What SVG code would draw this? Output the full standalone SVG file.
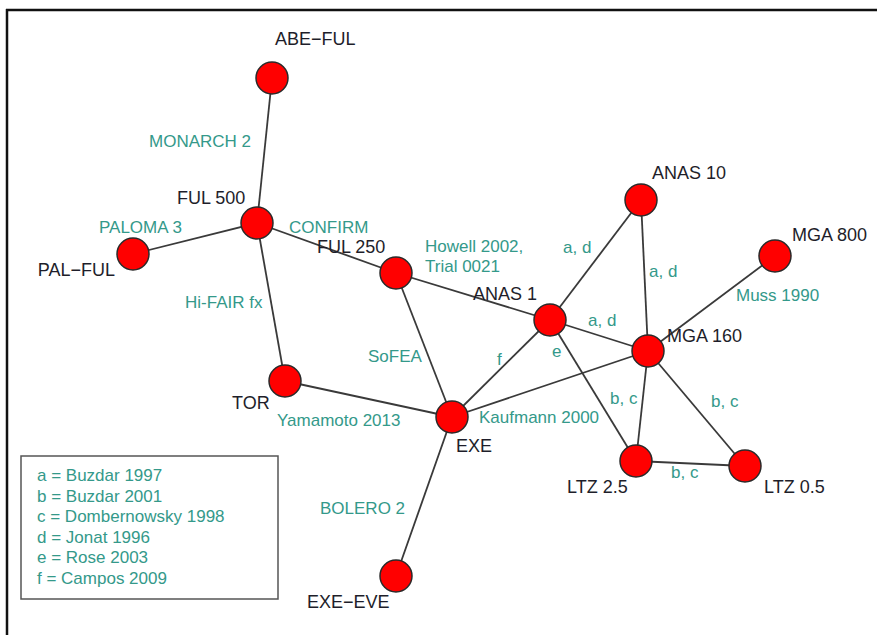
<svg xmlns="http://www.w3.org/2000/svg" width="877" height="635" viewBox="0 0 877 635">
<style>
.edge{stroke:#3a3a3a;stroke-width:1.8;fill:none}
.node circle{fill:#ff0000;stroke:#2a2a2a;stroke-width:1.5}
.nl{font-family:"Liberation Sans",Arial,sans-serif;font-size:18px;fill:#1e1e2a}
.el{font-family:"Liberation Sans",Arial,sans-serif;font-size:17px;fill:#34998a}
.lg{font-family:"Liberation Sans",Arial,sans-serif;font-size:17px;fill:#34998a}
</style>
<rect x="0" y="0" width="877" height="635" fill="#ffffff"/>
<line x1="6" y1="10" x2="877" y2="10" stroke="#111" stroke-width="2.5"/>
<line x1="7" y1="9" x2="7" y2="635" stroke="#111" stroke-width="2.5"/>
<g id="connectors">
<line class="edge" x1="272" y1="78" x2="257" y2="223"/>
<line class="edge" x1="257" y1="223" x2="133" y2="254"/>
<line class="edge" x1="257" y1="223" x2="396" y2="273"/>
<line class="edge" x1="257" y1="223" x2="285" y2="381"/>
<line class="edge" x1="396" y1="273" x2="550" y2="320"/>
<line class="edge" x1="396" y1="273" x2="452" y2="417"/>
<line class="edge" x1="285" y1="381" x2="452" y2="417"/>
<line class="edge" x1="452" y1="417" x2="550" y2="320"/>
<line class="edge" x1="452" y1="417" x2="648" y2="351"/>
<line class="edge" x1="452" y1="417" x2="396" y2="576"/>
<line class="edge" x1="550" y1="320" x2="641" y2="200"/>
<line class="edge" x1="550" y1="320" x2="648" y2="351"/>
<line class="edge" x1="550" y1="320" x2="636" y2="461"/>
<line class="edge" x1="641" y1="200" x2="648" y2="351"/>
<line class="edge" x1="775" y1="256" x2="648" y2="351"/>
<line class="edge" x1="648" y1="351" x2="636" y2="461"/>
<line class="edge" x1="648" y1="351" x2="745" y2="466"/>
<line class="edge" x1="636" y1="461" x2="745" y2="466"/>
</g>
<g id="edge-labels">
<text class="el" x="149" y="147">MONARCH 2</text>
<text class="el" x="99" y="233">PALOMA 3</text>
<text class="el" x="289" y="233">CONFIRM</text>
<text class="el" x="185" y="308">Hi-FAIR fx</text>
<text class="el" x="425" y="252">Howell 2002,</text>
<text class="el" x="425" y="272">Trial 0021</text>
<text class="el" x="563" y="253">a, d</text>
<text class="el" x="649" y="277">a, d</text>
<text class="el" x="588" y="326">a, d</text>
<text class="el" x="736" y="301">Muss 1990</text>
<text class="el" x="368" y="362">SoFEA</text>
<text class="el" x="497" y="365">f</text>
<text class="el" x="552" y="357">e</text>
<text class="el" x="610" y="404">b, c</text>
<text class="el" x="711" y="407">b, c</text>
<text class="el" x="671" y="478">b, c</text>
<text class="el" x="277" y="426">Yamamoto 2013</text>
<text class="el" x="479" y="423">Kaufmann 2000</text>
<text class="el" x="320" y="514">BOLERO 2</text>
</g>
<g id="ABE-FUL" class="node"><circle cx="272" cy="78" r="16"/><text class="nl" x="275" y="45">ABE−FUL</text></g>
<g id="FUL500" class="node"><circle cx="257" cy="223" r="16"/><text class="nl" x="177" y="204">FUL 500</text></g>
<g id="PAL-FUL" class="node"><circle cx="133" cy="254" r="16"/><text class="nl" x="115" y="276" text-anchor="end">PAL−FUL</text></g>
<g id="FUL250" class="node"><circle cx="396" cy="273" r="16"/><text class="nl" x="317" y="253">FUL 250</text></g>
<g id="ANAS1" class="node"><circle cx="550" cy="320" r="16"/><text class="nl" x="473" y="300">ANAS 1</text></g>
<g id="ANAS10" class="node"><circle cx="641" cy="200" r="16"/><text class="nl" x="652" y="179">ANAS 10</text></g>
<g id="MGA800" class="node"><circle cx="775" cy="256" r="16"/><text class="nl" x="792" y="241">MGA 800</text></g>
<g id="MGA160" class="node"><circle cx="648" cy="351" r="16"/><text class="nl" x="667" y="342">MGA 160</text></g>
<g id="TOR" class="node"><circle cx="285" cy="381" r="16"/><text class="nl" x="232" y="409">TOR</text></g>
<g id="EXE" class="node"><circle cx="452" cy="417" r="16"/><text class="nl" x="456" y="452">EXE</text></g>
<g id="LTZ2.5" class="node"><circle cx="636" cy="461" r="16"/><text class="nl" x="567" y="493">LTZ 2.5</text></g>
<g id="LTZ0.5" class="node"><circle cx="745" cy="466" r="16"/><text class="nl" x="764" y="493">LTZ 0.5</text></g>
<g id="EXE-EVE" class="node"><circle cx="396" cy="576" r="16"/><text class="nl" x="307" y="608">EXE−EVE</text></g>
<g id="legend">
<rect x="21" y="456" width="257" height="143" fill="#fff" stroke="#555" stroke-width="1.5"/>
<text class="lg" x="37" y="481">a = Buzdar 1997</text>
<text class="lg" x="37" y="502">b = Buzdar 2001</text>
<text class="lg" x="37" y="522">c = Dombernowsky 1998</text>
<text class="lg" x="37" y="543">d = Jonat 1996</text>
<text class="lg" x="37" y="563">e = Rose 2003</text>
<text class="lg" x="37" y="584">f = Campos 2009</text>
</g>
</svg>
